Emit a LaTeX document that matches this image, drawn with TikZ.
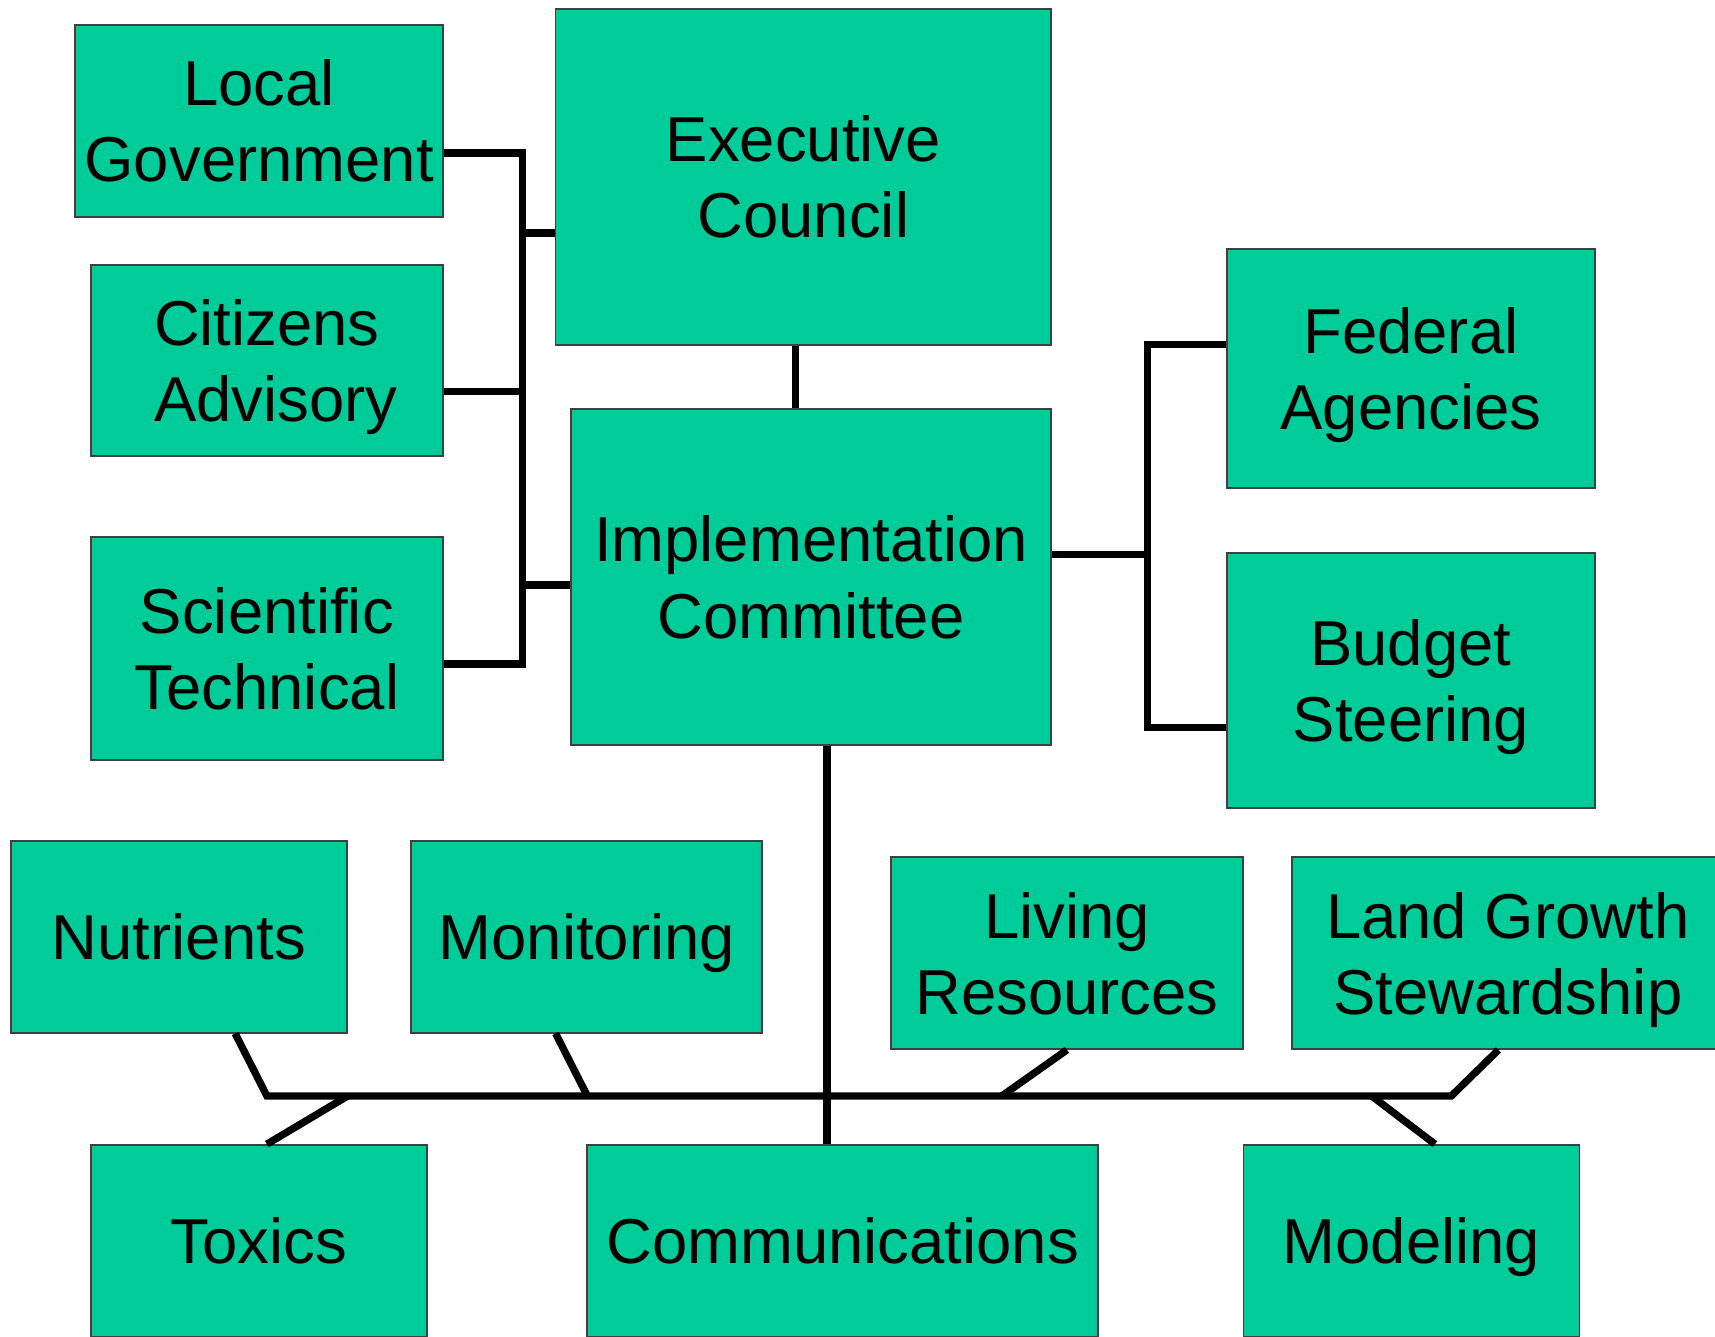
\documentclass[tikz,border=0pt]{standalone}
\usepackage{fontspec}
\setmainfont{Liberation Sans}
\usetikzlibrary{calc}
\definecolor{boxgreen}{HTML}{00CC99}

\begin{document}
\begin{tikzpicture}[x=0.01cm,y=-0.01cm,
    unit/.style={draw=black!75, line width=0.5pt, fill=boxgreen, inner sep=0pt,
        align=center, text depth=0pt, font=\fontsize{16.5}{19.8}\selectfont},
    link/.style={line width=1.9pt, black}]
    \useasboundingbox (0,0) rectangle (1568,1222);

    % Draw the upper boxes
    \node[unit, minimum width=3.36cm, minimum height=1.75cm] (local) at (237,110.5) {Local\\Government};
    \node[unit, minimum width=3.22cm, minimum height=1.75cm] (citizens) at (244,329.5) {Citizens\\~Advisory};
    \node[unit, minimum width=3.22cm, minimum height=2.04cm] (scitech) at (244,593) {Scientific\\Technical};
    \node[unit, minimum width=4.53cm, minimum height=3.07cm] (exec) at (734.5,161.5) {Executive\\Council};
    \node[unit, minimum width=4.39cm, minimum height=3.07cm] (impl) at (741.5,527.5) {Implementation\\Committee};
    \node[unit, minimum width=3.36cm, minimum height=2.18cm] (federal) at (1290,337) {Federal\\Agencies};
    \node[unit, minimum width=3.36cm, minimum height=2.33cm] (budget) at (1290,622.5) {Budget\\Steering};

    % Draw the subcommittee boxes
    \node[unit, minimum width=3.07cm, minimum height=1.75cm] (nutrients) at (163.5,856.5) {Nutrients};
    \node[unit, minimum width=3.21cm, minimum height=1.75cm] (monitoring) at (536.5,856.5) {Monitoring};
    \node[unit, minimum width=3.21cm, minimum height=1.75cm] (living) at (975.5,871.5) {Living\\Resources};
    \node[unit, minimum width=3.95cm, minimum height=1.75cm] (landgrowth) at (1378.5,871.5) {Land Growth\\Stewardship};
    \node[unit, minimum width=3.07cm, minimum height=1.75cm] (toxics) at (236.5,1134.5) {Toxics};
    \node[unit, minimum width=4.67cm, minimum height=1.75cm] (comms) at (770.5,1134.5) {Communications};
    \node[unit, minimum width=3.07cm, minimum height=1.75cm] (modeling) at (1290.5,1134.5) {Modeling};

    % Left bus
    \coordinate (lbtop) at (478,140);
    \coordinate (lbcit) at (478,358);
    \coordinate (lbbot) at (478,607);
    \coordinate (lbexec) at (478,213);
    \coordinate (lbimpl) at (478,535);
    \draw[link] (local.east |- lbtop) -- (lbtop) -- (lbbot) -- (scitech.east |- lbbot);
    \draw[link] (citizens.east |- lbcit) -- (lbcit);
    \draw[link] (lbexec) -- (exec.west |- lbexec);
    \draw[link] (lbimpl) -- (impl.west |- lbimpl);

    % Executive to implementation
    \coordinate (ei) at (727,340);
    \draw[link] (exec.south -| ei) -- (impl.north -| ei);

    % Right bus
    \coordinate (rbimpl) at (1049,507);
    \coordinate (rbtop) at (1049,315);
    \coordinate (rbbot) at (1049,665);
    \draw[link] (impl.east |- rbimpl) -- (rbimpl);
    \draw[link] (federal.west |- rbtop) -- (rbtop) -- (rbbot) -- (budget.west |- rbbot);

    % Bottom bus
    \coordinate (bl) at (244,1002);
    \coordinate (br) at (1327,1002);
    \coordinate (bv) at (756,1002);
    \draw[link] (impl.south -| bv) -- (comms.north -| bv);
    \draw[link] ($(nutrients.south)+(51.5,0)$) -- (bl) -- (br) -- ($(landgrowth.south)+(-8.5,0)$);
    \draw[link] ($(monitoring.south)+(-28.5,0)$) -- (537,1002);
    \draw[link] (318,1002) -- ($(toxics.north)+(7.5,0)$);
    \draw[link] (living.south) -- (916,1002);
    \draw[link] (1254,1002) -- ($(modeling.north)+(21.5,0)$);
\end{tikzpicture}
\end{document}
